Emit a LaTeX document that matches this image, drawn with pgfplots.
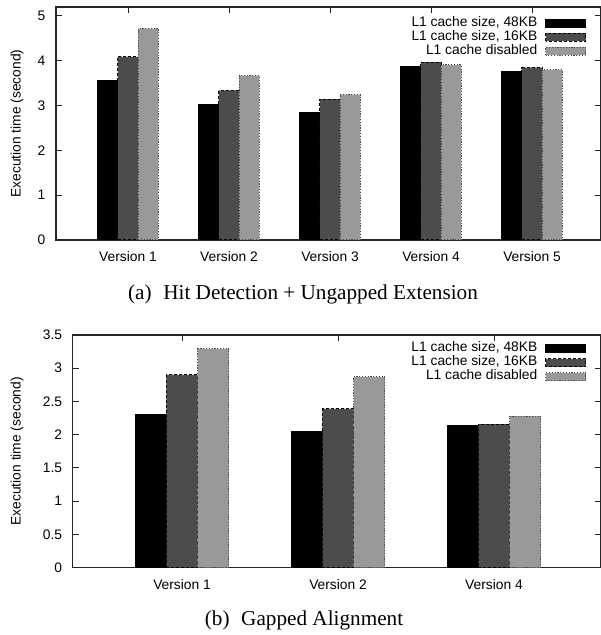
\documentclass[border=0pt]{standalone}
\usepackage{fontspec}
\setmainfont{Liberation Sans}
\newfontfamily\capfont{Liberation Serif}
\usepackage{pgfplots}
\pgfplotsset{compat=1.18}
\definecolor{darkbar}{gray}{0.30}
\definecolor{lightbar}{gray}{0.60}
\definecolor{axcol}{gray}{0.15}
\pgfplotsset{
  mylegend/.style={legend image code/.code={\draw[##1] (0pt,-2pt) rectangle (20pt,2pt);}},
  s48/.style={fill=black, draw=black, line width=0.5pt, bar shift=-0.2, mylegend},
  s16/.style={fill=darkbar, draw=black, dash pattern=on 1.5pt off 1pt, line width=0.5pt, bar shift=0, mylegend},
  sdis/.style={fill=lightbar, draw=black!70, dash pattern=on 0.6pt off 0.8pt, line width=0.5pt, bar shift=0.2, mylegend},
  mystyle/.style={
    scale only axis, anchor=south west,
    ybar, bar width=0.2,
    ymin=0,
    axis line style={axcol, line width=0.7pt},
    tick align=inside, major tick length=3pt,
    tick style={axcol, line width=0.5pt},
    xtick pos=top, xticklabel pos=bottom,
    ytick pos=both, yticklabel pos=left,
    /pgf/number format/assume math mode=true,
    tick label style={font=\fontsize{6.9}{8}\selectfont},
    xticklabel style={yshift=-2.2pt},
    yticklabel style={xshift=-1.8pt},
    label style={font=\fontsize{6.9}{8}\selectfont},
    ylabel={Execution time (second)},
    legend cell align=right,
    legend plot pos=right,
    legend style={draw=none, fill=none, inner sep=0pt, row sep=0pt, column sep=4pt,
      nodes={inner sep=0pt, text height=5pt, text depth=2pt, font=\fontsize{6.9}{7}\selectfont},
      anchor=north east},
  }
}
\begin{document}
\begin{tikzpicture}
\begin{axis}[mystyle,
  at={(28pt,197.5pt)}, width=272.5pt, height=116.5pt,
  xmin=0.287, xmax=5.683, ymax=5.19,
  xtick={1,2,3,4,5},
  xticklabels={Version 1,Version 2,Version 3,Version 4,Version 5},
  ytick={0,1,2,3,4,5},
  ylabel style={at={(axis description cs:-0.0716,0.5)}, anchor=center},
  legend style={at={(rel axis cs:1,1)}, xshift=-7.15pt, yshift=-4.4pt},
]
\addplot[s48] coordinates {(1,3.56) (2,3.02) (3,2.84) (4,3.86) (5,3.76)};
\addplot[s16] coordinates {(1,4.08) (2,3.33) (3,3.14) (4,3.96) (5,3.84)};
\addplot[sdis] coordinates {(1,4.71) (2,3.66) (3,3.24) (4,3.90) (5,3.79)};
\legend{{L1 cache size, 48KB}, {L1 cache size, 16KB}, {L1 cache disabled}}
\end{axis}
\begin{axis}[mystyle,
  at={(36.35pt,33.65pt)}, width=264.15pt, height=116.35pt,
  xmin=0.299, xmax=3.686, ymax=3.5,
  xtick={1,2,3},
  xticklabels={Version 1,Version 2,Version 4},
  ytick={0,0.5,1,1.5,2,2.5,3,3.5},
  ylabel style={at={(axis description cs:-0.1054,0.5)}, anchor=center},
  legend style={at={(rel axis cs:1,1)}, xshift=-7.15pt, yshift=-3.3pt},
]
\addplot[s48] coordinates {(1,2.30) (2,2.05) (3,2.14)};
\addplot[s16] coordinates {(1,2.90) (2,2.39) (3,2.16)};
\addplot[sdis] coordinates {(1,3.29) (2,2.87) (3,2.28)};
\legend{{L1 cache size, 48KB}, {L1 cache size, 16KB}, {L1 cache disabled}}
\end{axis}
\node[font=\capfont\fontsize{10.6}{12}\selectfont] at (151.5pt,170.5pt) {(a)\hspace{0.55em}Hit Detection + Ungapped Extension};
\node[font=\capfont\fontsize{10.6}{12}\selectfont] at (152pt,7.5pt) {(b)\hspace{0.55em}Gapped Alignment};
\pgfresetboundingbox
\path[use as bounding box] (0,0) rectangle (300pt,317.5pt);
\end{tikzpicture}
\end{document}
